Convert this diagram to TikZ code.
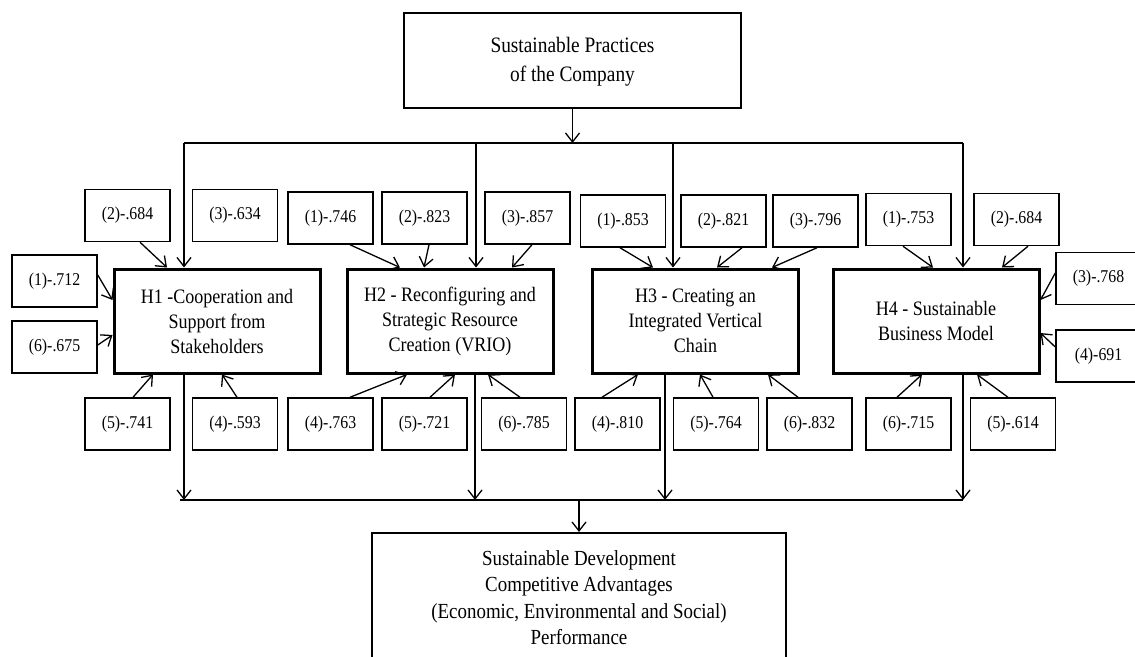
\documentclass[tikz,border=0pt]{standalone}
\usepackage{fontspec}
\setmainfont{Liberation Serif}[FakeStretch=0.88]
\usetikzlibrary{arrows.meta}
\begin{document}
\begin{tikzpicture}[x=1pt,y=-1pt,
  sbox/.style={draw, line width=1.5pt, minimum width=85pt, minimum height=52pt, inner sep=0pt, font=\fontsize{18}{20}\selectfont},
  hbox/.style={draw, line width=3pt, minimum width=206pt, minimum height=104pt, align=center, inner sep=0pt, font=\fontsize{20.5}{25}\selectfont},
  bigbox/.style={draw, line width=1.6pt, inner sep=0pt},
  conn/.style={line width=1.3pt},
  arr/.style={conn, -{Straight Barb[length=9pt,width=14pt,line width=1.3pt]}},
]
\useasboundingbox (0,0) rectangle (1135,656);

% top and bottom boxes
\node[bigbox, minimum width=337pt, minimum height=95pt] (top) at (572.5,60.5) {};
\node[anchor=north, align=center, inner sep=0pt, font=\fontsize{22}{29}\selectfont] (toptxt) at (572.5,37) {Sustainable Practices\\of the Company};
\node[bigbox, minimum width=414pt, minimum height=170pt, anchor=north] (bot) at (579,532) {};
\node[anchor=north, align=center, inner sep=0pt, font=\fontsize{21.5}{26.5}\selectfont] (bottxt) at (579,550) {Sustainable Development\\Competitive Advantages\\(Economic, Environmental and Social)\\Performance};

% hypothesis boxes
\node[hbox] (h1) at (217,321) {H1 -Cooperation and\\Support from\\Stakeholders};
\node[hbox] (h2) at (450,321) {H2 - Reconfiguring and\\Strategic Resource\\Creation (VRIO)};
\node[hbox] (h3) at (695.5,321) {H3 - Creating an\\Integrated Vertical\\Chain};
\node[hbox] (h4) at (936,321) {H4 - Sustainable\\Business Model};

% H1 indicators
\node[sbox] (a2) at (127.5,215.5) {(2)-.684};
\node[sbox] (a3) at (235,215.5) {(3)-.634};
\node[sbox] (a1) at (54.5,281) {(1)-.712};
\node[sbox] (a6) at (54.5,347) {(6)-.675};
\node[sbox] (a5) at (127.5,424) {(5)-.741};
\node[sbox] (a4) at (235,424) {(4)-.593};

% H2 indicators
\node[sbox] (b1) at (330.5,218) {(1)-.746};
\node[sbox] (b2) at (424.5,218) {(2)-.823};
\node[sbox] (b3) at (527.5,218) {(3)-.857};
\node[sbox] (b4) at (330.5,424) {(4)-.763};
\node[sbox] (b5) at (424.5,424) {(5)-.721};
\node[sbox] (b6) at (524,424) {(6)-.785};

% H3 indicators
\node[sbox] (c1) at (623,221) {(1)-.853};
\node[sbox] (c2) at (723.5,221) {(2)-.821};
\node[sbox] (c3) at (815.5,221) {(3)-.796};
\node[sbox] (c4) at (617.5,424) {(4)-.810};
\node[sbox] (c5) at (716,424) {(5)-.764};
\node[sbox] (c6) at (809.5,424) {(6)-.832};

% H4 indicators
\node[sbox] (d1) at (908.5,219.5) {(1)-.753};
\node[sbox] (d2) at (1016.5,219.5) {(2)-.684};
\node[sbox] (d3) at (1098.5,278.5) {(3)-.768};
\node[sbox] (d4) at (1098.5,356) {(4)-691};
\node[sbox] (d6) at (908.5,424) {(6)-.715};
\node[sbox] (d5) at (1013,424) {(5)-.614};

% distribution lines (top)
\coordinate (tj) at (572.5,143);
\coordinate (t1) at (184,143);
\coordinate (t2) at (476,143);
\coordinate (t3) at (673,143);
\coordinate (t4) at (963,143);
\draw[arr] (top.south) -- (tj);
\draw[conn] (t1) -- (t4);
\draw[arr] (t1) -- (t1 |- h1.north);
\draw[arr] (t2) -- (t2 |- h2.north);
\draw[arr] (t3) -- (t3 |- h3.north);
\draw[arr] (t4) -- (t4 |- h4.north);

% collecting lines (bottom)
\coordinate (bj) at (579,500);
\coordinate (u0) at (180,500);
\coordinate (u1) at (184,500);
\coordinate (u2) at (475,500);
\coordinate (u3) at (665,500);
\coordinate (u4) at (963,500);
\draw[conn] (u0) -- (u4);
\draw[arr] (u1 |- h1.south) -- (u1);
\draw[arr] (u2 |- h2.south) -- (u2);
\draw[arr] (u3 |- h3.south) -- (u3);
\draw[arr] (u4 |- h4.south) -- (u4);
\draw[arr] (bj) -- (bot.north);

% H1 arrows
\draw[arr] ([xshift=12.5pt]a2.south) -- ([xshift=-50pt]h1.north);
\draw[arr] ([yshift=6pt]a1.east) -- ([yshift=21pt]h1.west);
\draw[arr] ([yshift=2pt]a6.east) -- ([yshift=-14pt]h1.west);
\draw[arr] ([xshift=5.5pt]a5.north) -- ([xshift=-64pt]h1.south);
\draw[arr] ([xshift=2pt]a4.north) -- ([xshift=5pt]h1.south);

% H2 arrows
\draw[arr] ([xshift=19.5pt]b1.south) -- ([xshift=-50pt]h2.north);
\draw[arr] ([xshift=4.5pt]b2.south) -- ([xshift=-26pt]h2.north);
\draw[arr] ([xshift=4.5pt]b3.south) -- ([xshift=62pt]h2.north);
\draw[arr] ([xshift=19.5pt]b4.north) -- ([xshift=-43pt]h2.south);
\draw[arr] ([xshift=5.5pt]b5.north) -- ([xshift=5pt]h2.south);
\draw[arr] ([xshift=-4pt]b6.north) -- ([xshift=38pt]h2.south);

% H3 arrows
\draw[arr] ([xshift=-3pt]c1.south) -- ([xshift=-42.5pt]h3.north);
\draw[arr] ([xshift=18.5pt]c2.south) -- ([xshift=21.5pt]h3.north);
\draw[arr] ([xshift=1.5pt]c3.south) -- ([xshift=76.5pt]h3.north);
\draw[arr] ([xshift=-15.5pt]c4.north) -- ([xshift=-57.5pt]h3.south);
\draw[arr] ([xshift=-3pt]c5.north) -- ([xshift=4.5pt]h3.south);
\draw[arr] ([xshift=-11.5pt]c6.north) -- ([xshift=72.5pt]h3.south);

% H4 arrows
\draw[arr] ([xshift=-5.5pt]d1.south) -- ([xshift=-3pt]h4.north);
\draw[arr] ([xshift=11.5pt]d2.south) -- ([xshift=66pt]h4.north);
\draw[arr] ([yshift=5.5pt]d3.west) -- ([yshift=21pt]h4.east);
\draw[arr] ([yshift=9pt]d4.west) -- ([yshift=-12pt]h4.east);
\draw[arr] ([xshift=-11.5pt]d6.north) -- ([xshift=-14pt]h4.south);
\draw[arr] ([xshift=-5pt]d5.north) -- ([xshift=41pt]h4.south);
\end{tikzpicture}
\end{document}
